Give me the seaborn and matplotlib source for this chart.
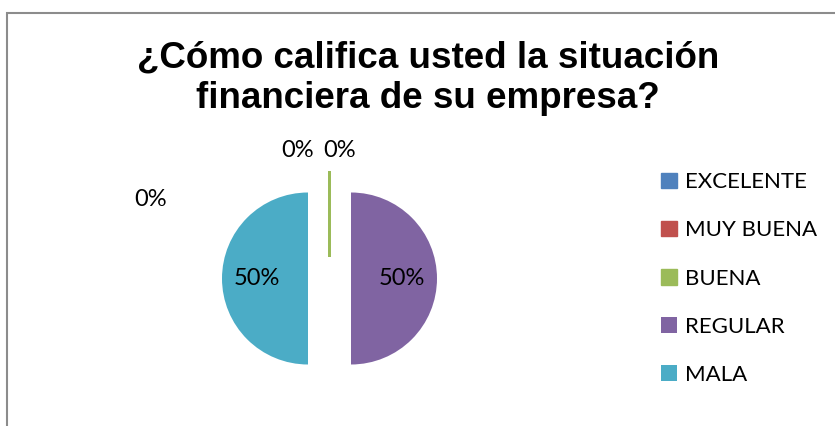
import matplotlib
matplotlib.use("Agg")
import matplotlib.pyplot as plt
from matplotlib.patches import Rectangle
import seaborn as sns

# Survey answers and their shares
categories = ["EXCELENTE", "MUY BUENA", "BUENA", "REGULAR", "MALA"]
shares = [0, 0, 0, 50, 50]
colors = ["#4F81BD", "#C0504D", "#9BBB59", "#8064A2", "#4BACC6"]
title = "¿Cómo califica usted la situación\nfinanciera de su empresa?"

sns.set_theme(style="white")
plt.rcParams["font.family"] = ["Lato", "DejaVu Sans"]
plt.rcParams["text.color"] = "black"

W, H = 835, 426
fig = plt.figure(figsize=(W / 100, H / 100), dpi=100)
fig.patch.set_facecolor("white")

# Axes covering the whole canvas; one data unit equals the pie radius
ax = fig.add_axes([0, 0, 1, 1])
cx, cy, rpx = 329.5, 278.5, 86.0

wedges, texts, autotexts = ax.pie(
    shares,
    colors=colors,
    startangle=90,
    counterclock=False,
    explode=[0.25] * len(shares),
    autopct=lambda p: f"{p:.0f}%",
    pctdistance=0.59,
    wedgeprops=dict(linewidth=0),
    textprops=dict(fontsize=17, color="black"),
)

# Empty answers collapse to a thin radial stroke in their own colour
for w, v, c in zip(wedges, shares, colors):
    if v == 0:
        w.set_edgecolor(c)
        w.set_linewidth(1.0)
        w.set_antialiased(False)

# Labels of the empty answers are set apart so they stay readable
zero_spots = [(-2.08, 0.92), (-0.37, 1.49), (0.12, 1.49)]
zero_texts = [t for t, v in zip(autotexts, shares) if v == 0]
for t, pos in zip(zero_texts, zero_spots):
    t.set_position(pos)

ax.set_xlim(-cx / rpx, (W - cx) / rpx)
ax.set_ylim(-(H - cy) / rpx, cy / rpx)
ax.set_aspect("auto")
ax.axis("off")

# Legend on the right
fig.legend(
    wedges, categories,
    loc="center left",
    bbox_to_anchor=(661 / W, 1 - 278.5 / H),
    frameon=False,
    fontsize=16,
    labelcolor="black",
    handlelength=0.7,
    handleheight=0.7,
    handletextpad=0.4,
    labelspacing=1.27,
    borderpad=0,
    borderaxespad=0,
)

# Title
fig.text(428 / W, 1 - 108 / H, title, ha="center", va="baseline",
         fontsize=26.5, fontweight="bold", color="black",
         family=["Liberation Sans", "DejaVu Sans"],
         linespacing=1.2, multialignment="center")

# Chart-area border
fig.patches.append(Rectangle((7 / W, -0.1), 2, 1.1 - 13 / H,
                             transform=fig.transFigure, fill=False,
                             edgecolor="#8C8C8C", linewidth=1.5))

fig.savefig("out.png", dpi=100, facecolor="white")
